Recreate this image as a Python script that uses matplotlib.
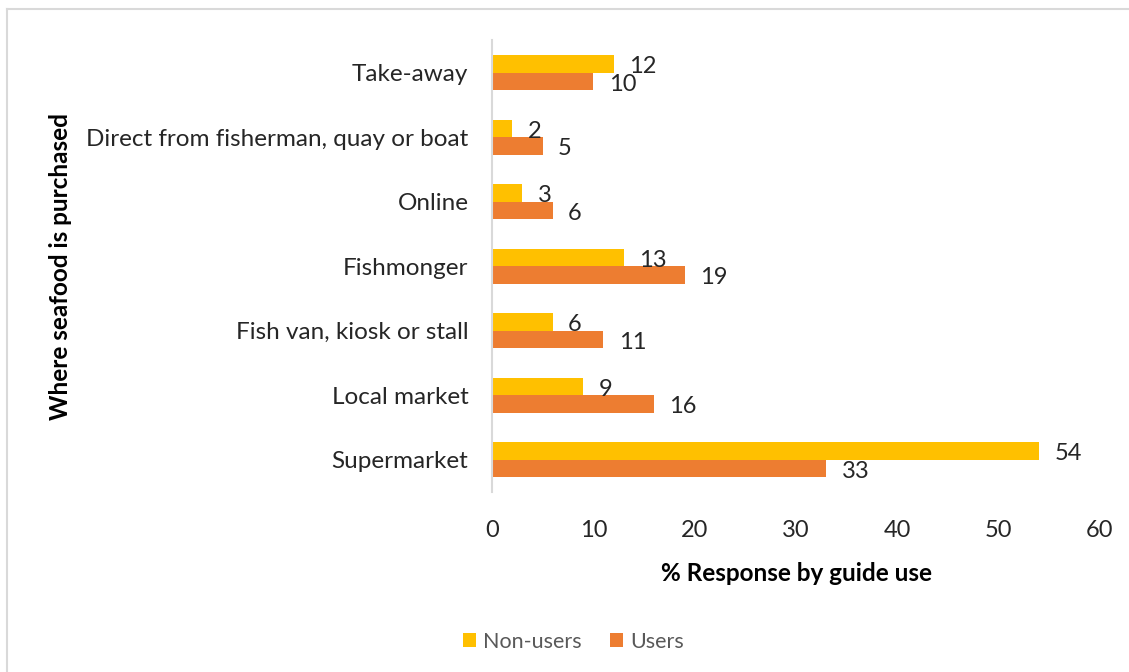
import matplotlib.pyplot as plt
import numpy as np

# purchase locations, bottom to top as drawn
categories = [
    "Supermarket",
    "Local market",
    "Fish van, kiosk or stall",
    "Fishmonger",
    "Online",
    "Direct from fisherman, quay or boat",
    "Take-away",
]
non_users = [54, 9, 6, 13, 3, 2, 12]
users = [33, 16, 11, 19, 6, 5, 10]
x_ticks = [0, 10, 20, 30, 40, 50, 60]

YELLOW = "#FFC000"
ORANGE = "#ED7D31"
INK = "#262626"
GREY = "#595959"

plt.rcParams["font.family"] = ["Lato", "DejaVu Sans"]

fig = plt.figure(figsize=(11.29, 6.72), dpi=100)
ax = fig.add_axes([0.4358, 0.268, 0.5385, 0.672])

# light frame round the chart area
fig.add_artist(plt.Line2D([0.0062, 0.0062], [0.0, 0.9866], color="#D9D9D9", lw=1.5,
                          transform=fig.transFigure))
fig.add_artist(plt.Line2D([0.0062, 1.0], [0.9866, 0.9866], color="#D9D9D9", lw=1.5,
                          transform=fig.transFigure))

y = np.arange(len(categories))
h = 0.27
b1 = ax.barh(y + h / 2, non_users, height=h, color=YELLOW, label="Non-users")
b2 = ax.barh(y - h / 2, users, height=h, color=ORANGE, label="Users")

for bars, vals in ((b1, non_users), (b2, users)):
    for bar, v in zip(bars, vals):
        cy = bar.get_y() + bar.get_height() / 2
        ax.annotate(str(v), (v, cy), xytext=(11, -2), textcoords="offset points",
                    ha="left", va="center", fontsize=17, color=INK)

ax.set_xlim(0, 60)
ax.set_ylim(-0.5, len(categories) - 0.5)
ax.set_xticks(x_ticks)
ax.set_xticklabels([str(t) for t in x_ticks], fontsize=17, color=INK)
ax.set_yticks(y)
ax.set_yticklabels(categories, fontsize=17.5, color=INK)
ax.tick_params(length=0)
ax.tick_params(axis="x", pad=20)
ax.tick_params(axis="y", pad=17)

for side in ("top", "right", "bottom"):
    ax.spines[side].set_visible(False)
ax.spines["left"].set_color("#D9D9D9")
ax.spines["left"].set_linewidth(1.5)

ax.set_xlabel("% Response by guide use", fontsize=17.5, fontweight="bold",
              color="black", labelpad=15)
fig.text(0.054, 0.604, "Where seafood is purchased", rotation=90, ha="center",
         va="center", fontsize=17.5, fontweight="bold", color="black")

fig.legend(handles=[b1, b2], loc="center", bbox_to_anchor=(0.508, 0.045), ncol=2,
           frameon=False, fontsize=15.5, labelcolor=GREY, handlelength=0.6,
           handleheight=0.6, handletextpad=0.35, columnspacing=1.3)

fig.savefig("out.png", dpi=100)
